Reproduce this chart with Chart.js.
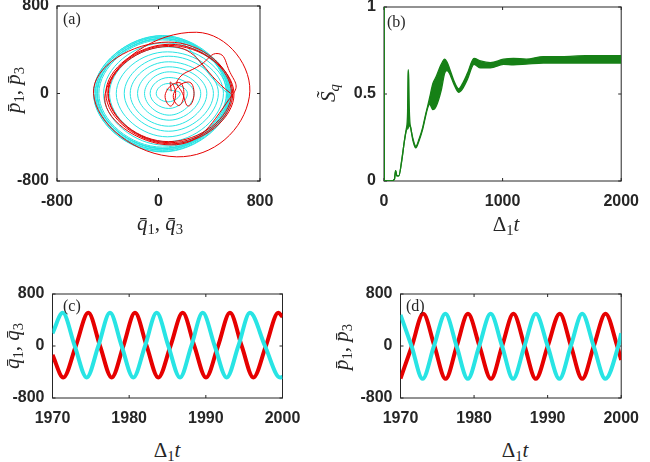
<!DOCTYPE html>
<html>
<head>
<meta charset="utf-8">
<script src="https://cdn.jsdelivr.net/npm/chart.js@4.4.1/dist/chart.umd.min.js"></script>
<style>
  html, body { margin: 0; padding: 0; background: #fff; overflow: hidden; }
  #fig { position: relative; width: 650px; height: 462px; overflow: hidden; }
  .box { position: absolute; }
  .ttl { position: absolute; font-family: "Liberation Serif", "DejaVu Serif", serif; font-size: 21px;
         color: #262626; white-space: nowrap; line-height: 1; transform: translate(-50%, -50%); }
  .ttl.rot { transform: translate(-50%, -50%) rotate(-90deg); }
  .ttl sub { font-size: 0.7em; vertical-align: -0.3em; }
  .tag { position: absolute; font-family: "Liberation Serif", "DejaVu Serif", serif; font-size: 16px;
         color: #262626; line-height: 1; }
</style>
</head>
<body>
<div id="fig">
  <div class="box" id="boxA"><canvas id="chartA"></canvas></div>
  <div class="box" id="boxB"><canvas id="chartB"></canvas></div>
  <div class="box" id="boxC"><canvas id="chartC"></canvas></div>
  <div class="box" id="boxD"><canvas id="chartD"></canvas></div>

  <div class="tag" style="left:63px;top:11px">(a)</div>
  <div class="tag" style="left:387px;top:14px">(b)</div>
  <div class="tag" style="left:63px;top:298px">(c)</div>
  <div class="tag" style="left:406px;top:298px">(d)</div>

  <div class="ttl" style="left:160px;top:225px"><i>q&#772;</i><sub>1</sub>, <i>q&#772;</i><sub>3</sub></div>
  <div class="ttl rot" style="left:15px;top:90px"><i>p&#772;</i><sub>1</sub>, <i>p&#772;</i><sub>3</sub></div>
  <div class="ttl" style="left:506px;top:226px">&Delta;<sub>1</sub><i>t</i></div>
  <div class="ttl rot" style="left:330px;top:93px"><i>S&#771;</i><sub><i>q</i></sub></div>
  <div class="ttl rot" style="left:14px;top:346px"><i>q&#772;</i><sub>1</sub>, <i>q&#772;</i><sub>3</sub></div>
  <div class="ttl" style="left:167px;top:452px">&Delta;<sub>1</sub><i>t</i></div>
  <div class="ttl rot" style="left:343px;top:347px"><i>p&#772;</i><sub>1</sub>, <i>p&#772;</i><sub>3</sub></div>
  <div class="ttl" style="left:515px;top:452px">&Delta;<sub>1</sub><i>t</i></div>
</div>

<script>
// ---- panel (a): phase portrait, read loop by loop (right, bottom, left, top)
const redQ = [100,
  95, 135, 95, 55,
  160, 200, 160, 120,
  235, 280, 235, 190,
  150, 330, 470, 550,
  590, 100, -420,
  300, 716, 144, -512,
  80, 585, 90, -400,
  80, 595, 100, -415,
  90, 575, 80, -395,
  80, 570];
const redP = [20,
  105, 0, -115, 0,
  100, 0, -110, 0,
  105, 0, -115, 0,
  120, 260, 365, 230,
  0, -470, 0,
  560, -30, -579, 0,
  470, 0, -450, 0,
  440, 0, -460, 0,
  450, 0, -440, 0,
  430, 0];
const cyanQ = [60,
  171, 76, -18, 76,
  228, 81, -66, 81,
  281, 85, -110, 85,
  333, 84, -165, 84,
  381, 79, -223, 79,
  433, 81, -270, 81,
  472, 70, -333, 70,
  512, 63, -386, 63,
  538, 52, -433, 52,
  564, 39, -486, 39,
  577, 32, -512, 32,
  560, 30, -500, 30,
  545, 30, -480, 30,
  570, 30, -510, 30,
  535, 30, -470, 30,
  555, 30, -495, 30,
  550, 30, -485, 30,
  545];
const cyanP = [40,
  0, -76, 0, 91,
  0, -137, 0, 146,
  0, -198, 0, 198,
  0, -244, 0, 244,
  0, -299, 0, 290,
  0, -345, 0, 341,
  0, -396, 0, 381,
  0, -442, 0, 427,
  0, -473, 0, 463,
  0, -503, 0, 503,
  0, -534, 0, 527,
  0, -520, 0, 520,
  0, -500, 0, 500,
  0, -530, 0, 530,
  0, -490, 0, 490,
  0, -515, 0, 515,
  0, -505, 0, 505,
  0];

// ---- panel (b): entropy, upper and lower edge of the band
const sT = [0, 3, 60, 88, 98, 108, 125, 150, 172, 188,
  199, 202, 205, 209, 213, 218, 224, 245, 268, 295, 327,
  350, 368, 385, 412, 440, 482, 512, 530, 551, 593,
  629, 662, 704, 759, 814, 897, 1008, 1091, 1200, 1344,
  1500, 1700, 2000];
const sUpper = [1, 0, 0, 0.01, 0.06, 0.03, 0.03, 0.12, 0.23, 0.30,
  0.40, 0.60, 0.64, 0.58, 0.42, 0.34, 0.31, 0.24, 0.20, 0.24, 0.31,
  0.38, 0.43, 0.48, 0.56, 0.60, 0.67, 0.70, 0.685, 0.65, 0.57,
  0.53, 0.56, 0.62, 0.705, 0.69, 0.68, 0.70, 0.705, 0.70, 0.715,
  0.715, 0.72, 0.72];
const sLower = [1, 0, 0, 0.01, 0.06, 0.03, 0.03, 0.12, 0.23, 0.29,
  0.30, 0.30, 0.31, 0.31, 0.32, 0.32, 0.31, 0.23, 0.19, 0.23, 0.30,
  0.37, 0.42, 0.44, 0.41, 0.43, 0.52, 0.62, 0.635, 0.62, 0.55,
  0.51, 0.53, 0.585, 0.67, 0.65, 0.65, 0.67, 0.668, 0.672, 0.678,
  0.678, 0.678, 0.678];

// ---- panel (c): q1 (red) and q3 (cyan), peaks / zeros / troughs
const q1T = [1970, 1971.41, 1973.04, 1974.67, 1976.2, 1977.72, 1979.24, 1980.76, 1982.28, 1983.8,
  1985.39, 1986.98, 1988.5, 1990.02, 1991.59, 1993.15, 1994.68, 1996.2, 1997.83, 1999.46, 2000];
const q1 = [-138, -485, 0, 510, 0, -485, 0, 510, 0, -485,
  0, 510, 0, -485, 0, 510, 0, -485, 0, 510, 450];
const q3T = [1970, 1971.33, 1972.9, 1974.46, 1975.98, 1977.5, 1979.02, 1980.54, 1982.07, 1983.59,
  1985.11, 1986.63, 1988.11, 1989.59, 1991.16, 1992.72, 1994.24, 1995.76, 1997.72, 1999.68, 2000];
const q3 = [195, 510, 0, -485, 0, 510, 0, -485, 0, 510,
  0, -485, 0, 510, 0, -485, 0, 510, 0, -485, -475];

// ---- panel (d): p1 (red) and p3 (cyan)
const p1T = [1970, 1971.55, 1973.09, 1974.61, 1976.13, 1977.65, 1979.17, 1980.73, 1982.3, 1983.82,
  1985.35, 1986.87, 1988.39, 1990.02, 1991.65, 1993.17, 1994.7, 1996.28, 1997.87, 1999.45, 2000];
const p1 = [-500, 0, 495, 0, -505, 0, 495, 0, -505, 0,
  495, 0, -505, 0, 495, 0, -505, 0, 495, 0, -215];
const p3T = [1970, 1971.5, 1973.0, 1974.55, 1976.1, 1977.62, 1979.15, 1980.7, 1982.25, 1983.8,
  1985.3, 1986.85, 1988.4, 1990.0, 1991.6, 1993.15, 1994.7, 1996.25, 1997.85, 1999.6, 2000];
const p3 = [480, 0, -505, 0, 495, 0, -505, 0, 495, 0,
  -505, 0, 495, 0, -505, 0, 495, 0, -505, 0, 195];

// ---- tick labels
const phaseTicks = [-800, 0, 800];
const timeTicks = [0, 1000, 2000];
const entropyTicks = [0, 0.5, 1];
const zoomTicks = [1970, 1980, 1990, 2000];
const ampTicks = [-800, 0, 800];

const RED = 'rgb(230,0,0)';
const CYAN = 'rgb(40,228,228)';
const GREEN = 'rgb(22,128,22)';
const INK = '#262626';
const tickFont = { family: '"Liberation Sans", Arial, sans-serif', size: 16, weight: 'bold' };

const pts = (xs, ys) => xs.map((x, i) => ({ x: x, y: ys[i] }));

// box round the plot area with small inward ticks, drawn under the data
const frame = {
  id: 'frame',
  beforeDatasetsDraw(chart) {
    const { ctx, chartArea: a, scales } = chart;
    ctx.save();
    ctx.strokeStyle = INK;
    ctx.lineWidth = 1;
    ctx.strokeRect(a.left, a.top, a.right - a.left, a.bottom - a.top);
    ctx.beginPath();
    scales.x.ticks.forEach(t => {
      const px = scales.x.getPixelForValue(t.value);
      ctx.moveTo(px, a.bottom); ctx.lineTo(px, a.bottom - 3);
      ctx.moveTo(px, a.top); ctx.lineTo(px, a.top + 3);
    });
    scales.y.ticks.forEach(t => {
      const py = scales.y.getPixelForValue(t.value);
      ctx.moveTo(a.left, py); ctx.lineTo(a.left + 3, py);
      ctx.moveTo(a.right, py); ctx.lineTo(a.right - 3, py);
    });
    ctx.stroke();
    ctx.restore();
  }
};

function axis(min, max, ticks, size, pad, horizontal) {
  return {
    type: 'linear', min: min, max: max,
    afterBuildTicks: s => { s.ticks = ticks.map(v => ({ value: v })); },
    ticks: { padding: pad, color: INK, font: tickFont, maxRotation: 0, autoSkip: false,
             callback: v => String(v) },
    grid: { display: false, drawTicks: false },
    border: { display: false },
    afterFit: s => { if (horizontal) s.height = size; else s.width = size; }
  };
}

// area = wanted plot rectangle in page pixels, box = canvas rectangle
function panel(id, box, area, xr, yr, type, datasets) {
  const div = document.getElementById('box' + id);
  Object.assign(div.style, { left: box.x + 'px', top: box.y + 'px', width: box.w + 'px', height: box.h + 'px' });
  return new Chart(document.getElementById('chart' + id), {
    type: type,
    data: { datasets: datasets },
    options: {
      responsive: true, maintainAspectRatio: false, animation: false, events: [],
      layout: { autoPadding: false,
                padding: { top: area.t - box.y, right: box.x + box.w - area.r, left: 0, bottom: 0 } },
      plugins: { legend: { display: false }, tooltip: { enabled: false } },
      elements: { point: { radius: 0 } },
      scales: {
        x: axis(xr[0], xr[1], xr[2], box.y + box.h - area.b, 11, true),
        y: axis(yr[0], yr[1], yr[2], area.l - box.x, 8, false)
      }
    },
    plugins: [frame]
  });
}

document.addEventListener('DOMContentLoaded', function() {
  // (a) phase portrait
  panel('A', { x: 0, y: -20, w: 300, h: 250 }, { l: 57, t: 6, r: 260, b: 181 },
    [-800, 800, phaseTicks], [-800, 800, phaseTicks], 'scatter', [
      { data: pts(redQ, redP), showLine: true, borderColor: RED, borderWidth: 1, tension: 0.5, order: 0 },
      { data: pts(cyanQ, cyanP), showLine: true, borderColor: CYAN, borderWidth: 1, tension: 0.5, order: 1 }
    ]);

  // (b) entropy band
  panel('B', { x: 320, y: -20, w: 330, h: 250 }, { l: 384, t: 7, r: 625, b: 181 },
    [0, 2000, timeTicks], [0, 1, entropyTicks], 'line', [
      { data: pts(sT, sUpper), borderColor: GREEN, backgroundColor: GREEN, borderWidth: 1.3,
        fill: '+1', cubicInterpolationMode: 'monotone' },
      { data: pts(sT, sLower), borderColor: GREEN, borderWidth: 1.3, fill: false,
        cubicInterpolationMode: 'monotone' }
    ]);

  // (c) q1, q3 late times
  panel('C', { x: 0, y: 270, w: 320, h: 160 }, { l: 52.5, t: 294, r: 282.5, b: 398 },
    [1970, 2000, zoomTicks], [-800, 800, ampTicks], 'line', [
      { data: pts(q3T, q3), borderColor: CYAN, borderWidth: 4, cubicInterpolationMode: 'monotone', order: 0 },
      { data: pts(q1T, q1), borderColor: RED, borderWidth: 4, cubicInterpolationMode: 'monotone', order: 1 }
    ]);

  // (d) p1, p3 late times
  panel('D', { x: 330, y: 270, w: 320, h: 160 }, { l: 400.5, t: 294, r: 630.5, b: 398 },
    [1970, 2000, zoomTicks], [-800, 800, ampTicks], 'line', [
      { data: pts(p3T, p3), borderColor: CYAN, borderWidth: 4, cubicInterpolationMode: 'monotone', order: 0 },
      { data: pts(p1T, p1), borderColor: RED, borderWidth: 4, cubicInterpolationMode: 'monotone', order: 1 }
    ]);
});
</script>
</body>
</html>
